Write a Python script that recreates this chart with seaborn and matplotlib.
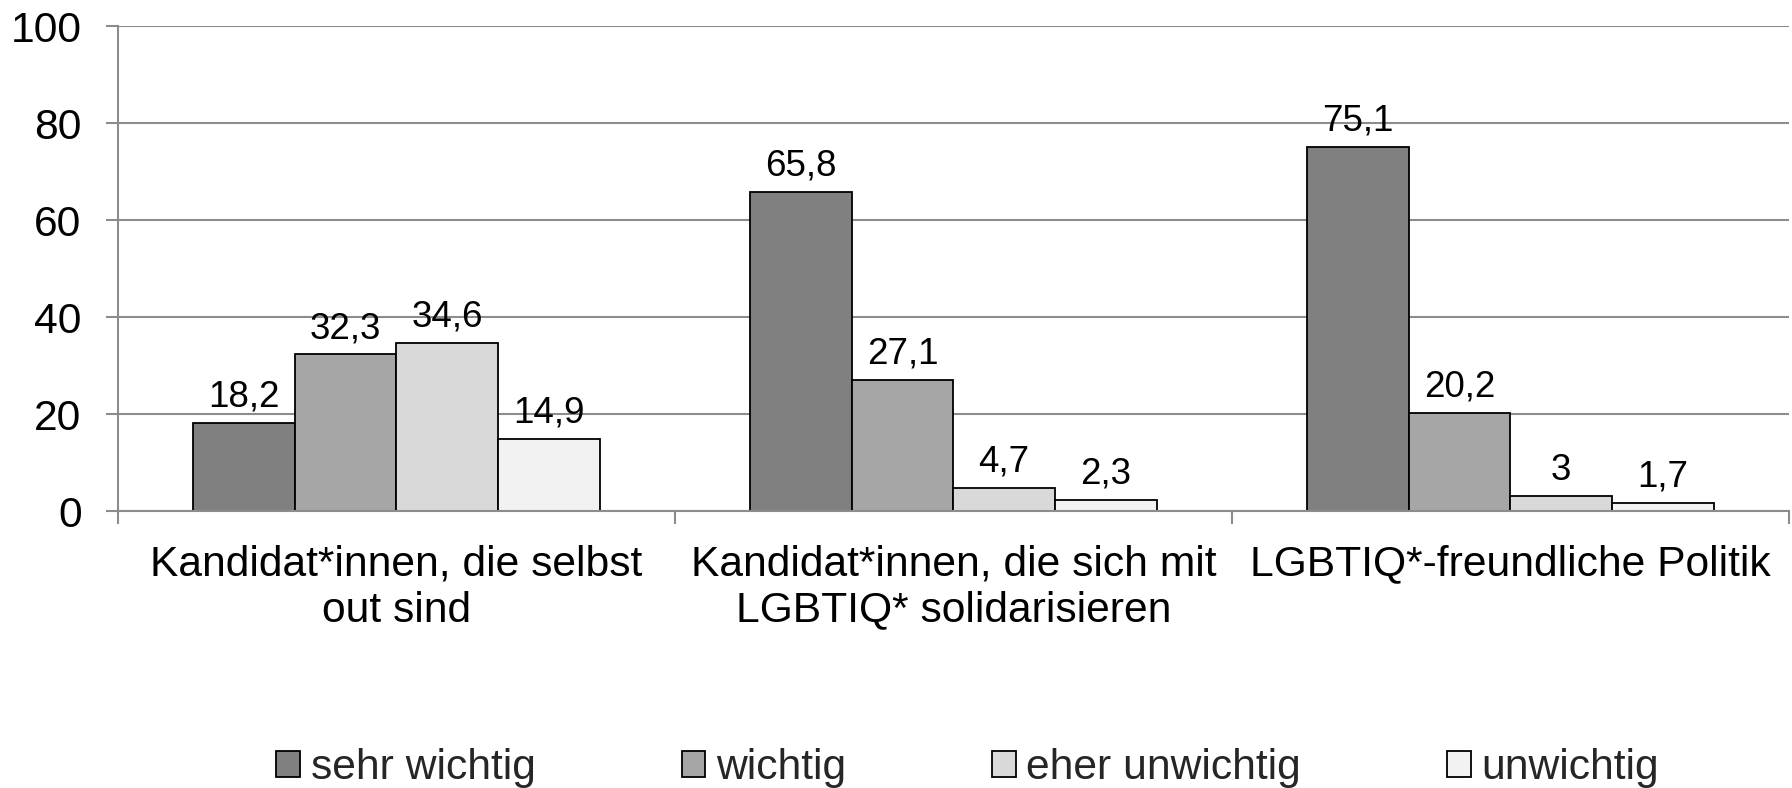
import matplotlib
matplotlib.use("Agg")
import matplotlib.pyplot as plt
from matplotlib.patches import Patch
import seaborn as sns
import pandas as pd

# categories and answers
categories = [
    "Kandidat*innen, die selbst\nout sind",
    "Kandidat*innen, die sich mit\nLGBTIQ* solidarisieren",
    "LGBTIQ*-freundliche Politik",
]
levels = ["sehr wichtig", "wichtig", "eher unwichtig", "unwichtig"]
sehr_wichtig = [18.2, 65.8, 75.1]
wichtig = [32.3, 27.1, 20.2]
eher_unwichtig = [34.6, 4.7, 3.0]
unwichtig = [14.9, 2.3, 1.7]
y_ticks = [0, 20, 40, 60, 80, 100]

colors = ["#808080", "#a6a6a6", "#d9d9d9", "#f2f2f2"]

rows = []
for lvl, vals in zip(levels, [sehr_wichtig, wichtig, eher_unwichtig, unwichtig]):
    for cat, v in zip(categories, vals):
        rows.append({"category": cat, "level": lvl, "value": v})
df = pd.DataFrame(rows)

sns.set_theme(style="white")
plt.rcParams["font.family"] = ["Liberation Sans", "DejaVu Sans"]

fig = plt.figure(figsize=(17.92, 7.88), dpi=100)
ax = fig.add_axes([0.0657, 0.3515, 0.9326, 0.6155])

sns.barplot(data=df, x="category", y="value", hue="level", order=categories,
            hue_order=levels, palette=dict(zip(levels, colors)), width=0.73,
            edgecolor="black", linewidth=1.3, saturation=1, ax=ax, legend=False)

for cont in ax.containers:
    labels = [f"{b.get_height():g}".replace(".", ",") for b in cont]
    ax.bar_label(cont, labels=labels, padding=6, fontsize=26.5, color="black")

ax.set_ylim(0, 100)
ax.set_xlim(-0.5, 2.5)
ax.set_yticks(y_ticks)
ax.set_xticks([0, 1, 2])
ax.set_xticks([-0.5, 0.5, 1.5, 2.5], minor=True)
ax.set_xlabel("")
ax.set_ylabel("")

grid_c = "#8c8c8c"
ax.yaxis.grid(True, color=grid_c, linewidth=1.5)
ax.set_axisbelow(True)
for s in ["top", "right"]:
    ax.spines[s].set_visible(False)
ax.spines["left"].set_color(grid_c)
ax.spines["left"].set_linewidth(1.5)
ax.spines["bottom"].set_color(grid_c)
ax.spines["bottom"].set_linewidth(1.5)

ax.tick_params(axis="y", which="major", left=True, length=9, width=1.5, color=grid_c,
               direction="out", pad=17, labelsize=30.7, labelcolor="black")
ax.tick_params(axis="x", which="major", bottom=True, length=0, pad=24,
               labelsize=30.7, labelcolor="black")
ax.tick_params(axis="x", which="minor", bottom=True, length=9.5, width=1.5,
               color=grid_c, direction="out")

handles = [Patch(facecolor=c, edgecolor="black", linewidth=1.3) for c in colors]
fig.legend(handles, levels, loc="lower center", bbox_to_anchor=(0.54, 0.0), ncol=4,
           frameon=False, fontsize=30.7, handlelength=0.55, handleheight=0.55,
           handletextpad=0.25, columnspacing=3.43, borderpad=0.0, borderaxespad=0.0)

fig.savefig("out.png", dpi=100)
